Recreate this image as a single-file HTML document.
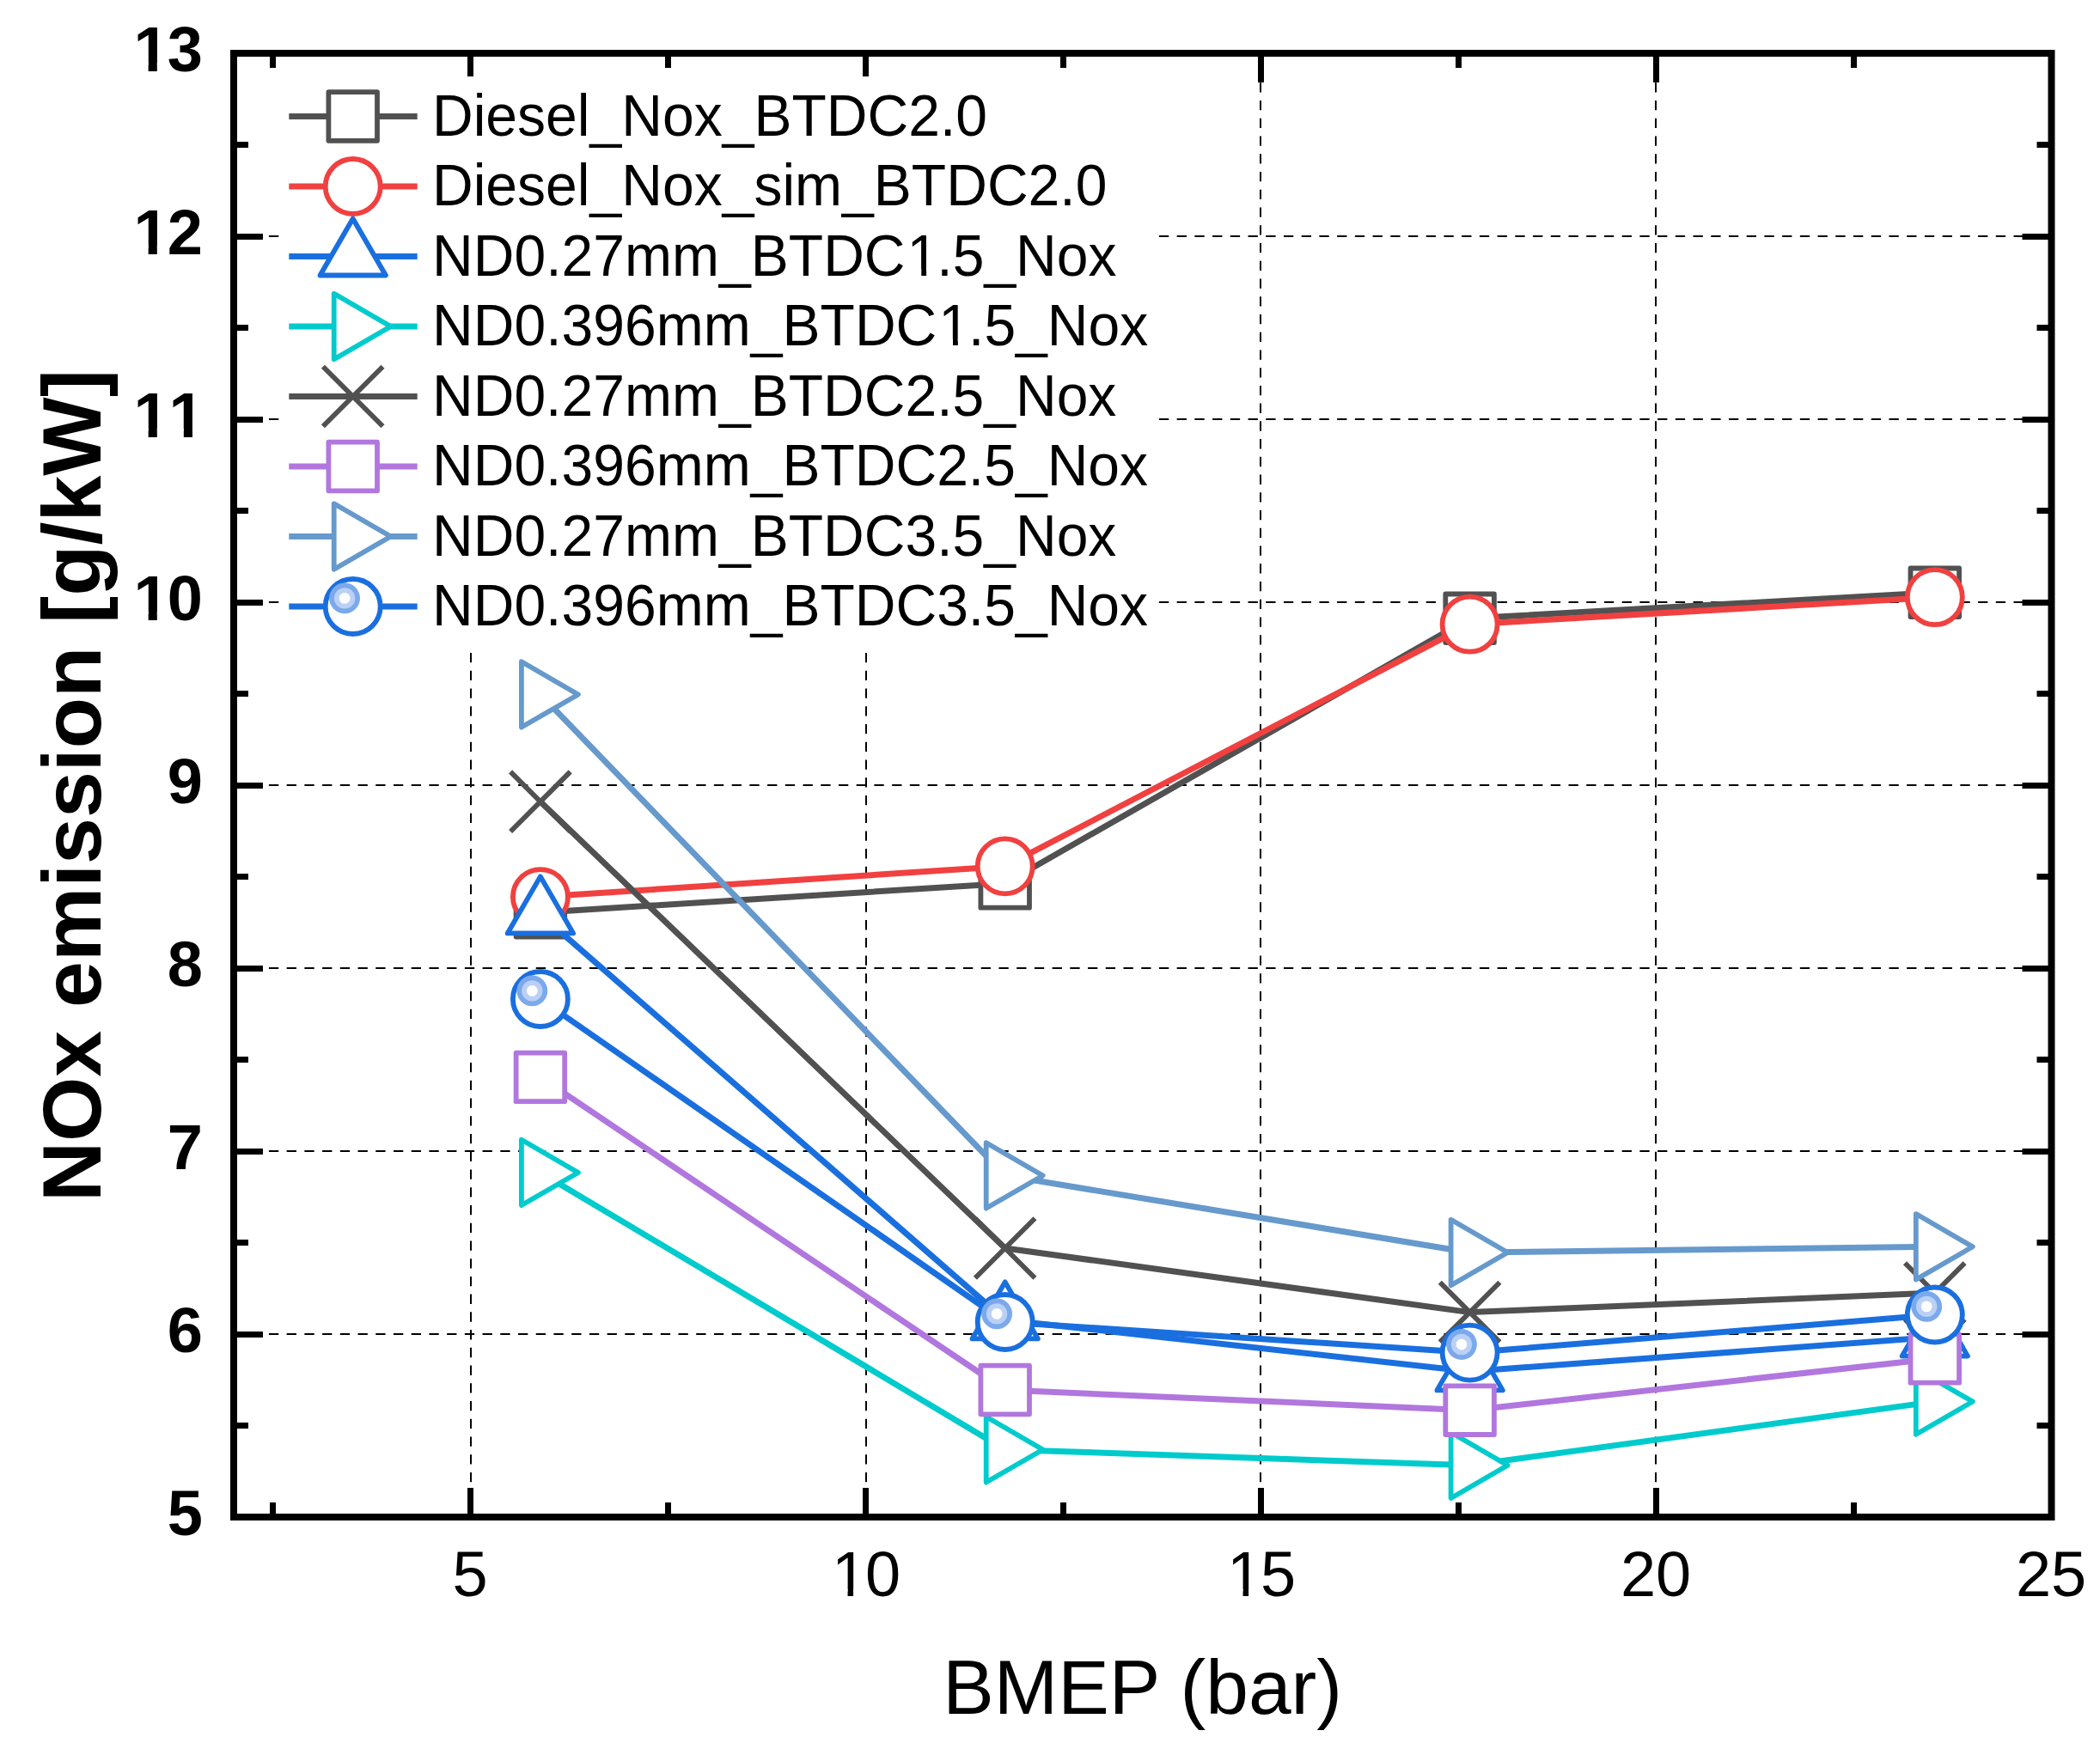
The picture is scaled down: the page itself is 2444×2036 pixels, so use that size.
<!DOCTYPE html>
<html lang="en">
<head>
<meta charset="utf-8">
<title>NOx emission vs BMEP</title>
<style>
html,body{margin:0;padding:0;background:#fff;}
svg{display:block;}
text{font-family:"Liberation Sans",sans-serif;fill:#000;}
.yt{font-weight:700;font-size:74px;font-kerning:none;}
.xt{font-size:74px;font-kerning:none;}
.lg{font-size:66.05px;}
.xl{font-size:89.3px;text-anchor:middle;}
.yl{font-weight:700;font-size:96.9px;text-anchor:middle;}
</style>
</head>
<body>
<svg width="2444" height="2036" viewBox="0 0 2444 2036" role="img" aria-label="NOx emission versus BMEP">
<rect width="2444" height="2036" fill="#fff"/>
<g stroke="#000" stroke-width="2" fill="none">
<path stroke-dasharray="11.3 9.42" d="M271.5 1553H2387.5"/>
<path stroke-dasharray="11.3 9.42" d="M271.5 1340H2387.5"/>
<path stroke-dasharray="11.3 9.42" d="M271.5 1127H2387.5"/>
<path stroke-dasharray="11.3 9.42" d="M271.5 914H2387.5"/>
<path stroke-dasharray="11.3 9.42" d="M271.5 701H2387.5"/>
<path stroke-dasharray="11.3 9.42" d="M271.5 488H2387.5"/>
<path stroke-dasharray="11.3 9.42" d="M271.5 275H2387.5"/>
<path stroke-dasharray="11.3 9.44" d="M548 1766.8V62"/>
<path stroke-dasharray="11.3 9.44" d="M1008 1766.8V62"/>
<path stroke-dasharray="11.3 9.44" d="M1467 1766.8V62"/>
<path stroke-dasharray="11.3 9.44" d="M1927 1766.8V62"/>
</g>
<g>
<polyline points="628.9,1062.3 1169.7,1028.4 1710.6,719.8 2251.8,689.8" fill="none" stroke="#515151" stroke-width="7" stroke-linejoin="round"/>
<rect x="600.6" y="1034" width="56.6" height="56.6" fill="#fff" stroke="#515151" stroke-width="5.8" stroke-linejoin="round"/>
<rect x="1141.4" y="1000.1" width="56.6" height="56.6" fill="#fff" stroke="#515151" stroke-width="5.8" stroke-linejoin="round"/>
<rect x="1682.3" y="691.5" width="56.6" height="56.6" fill="#fff" stroke="#515151" stroke-width="5.8" stroke-linejoin="round"/>
<rect x="2223.5" y="661.5" width="56.6" height="56.6" fill="#fff" stroke="#515151" stroke-width="5.8" stroke-linejoin="round"/>
</g>
<g>
<polyline points="628.9,1044.1 1169.7,1008.4 1710.6,726.7 2251.8,695.2" fill="none" stroke="#F14040" stroke-width="7" stroke-linejoin="round"/>
<circle cx="628.9" cy="1044.1" r="32" fill="#fff" stroke="#F14040" stroke-width="5.8" stroke-linejoin="round"/>
<circle cx="1169.7" cy="1008.4" r="32" fill="#fff" stroke="#F14040" stroke-width="5.8" stroke-linejoin="round"/>
<circle cx="1710.6" cy="726.7" r="32" fill="#fff" stroke="#F14040" stroke-width="5.8" stroke-linejoin="round"/>
<circle cx="2251.8" cy="695.2" r="32" fill="#fff" stroke="#F14040" stroke-width="5.8" stroke-linejoin="round"/>
</g>
<g>
<polyline points="628.9,1064.4 1169.7,1536.4 1710.6,1596.4 2251.8,1556.6" fill="none" stroke="#1A6FDF" stroke-width="7" stroke-linejoin="round"/>
<polygon points="628.9,1020.4 667.1,1086.4 590.7,1086.4" fill="#fff" stroke="#1A6FDF" stroke-width="5.8" stroke-linejoin="round"/>
<polygon points="1169.7,1492.4 1207.9,1558.4 1131.5,1558.4" fill="#fff" stroke="#1A6FDF" stroke-width="5.8" stroke-linejoin="round"/>
<polygon points="1710.6,1552.4 1748.8,1618.4 1672.4,1618.4" fill="#fff" stroke="#1A6FDF" stroke-width="5.8" stroke-linejoin="round"/>
<polygon points="2251.8,1512.6 2290,1578.6 2213.6,1578.6" fill="#fff" stroke="#1A6FDF" stroke-width="5.8" stroke-linejoin="round"/>
</g>
<g>
<polyline points="628.9,1364.9 1169.7,1687.4 1710.6,1705.7 2251.8,1631.6" fill="none" stroke="#00CBCC" stroke-width="7" stroke-linejoin="round"/>
<polygon points="606.9,1326.7 672.9,1364.9 606.9,1403.1" fill="#fff" stroke="#00CBCC" stroke-width="5.8" stroke-linejoin="round"/>
<polygon points="1147.7,1649.2 1213.7,1687.4 1147.7,1725.6" fill="#fff" stroke="#00CBCC" stroke-width="5.8" stroke-linejoin="round"/>
<polygon points="1688.6,1667.5 1754.6,1705.7 1688.6,1743.9" fill="#fff" stroke="#00CBCC" stroke-width="5.8" stroke-linejoin="round"/>
<polygon points="2229.8,1593.4 2295.8,1631.6 2229.8,1669.8" fill="#fff" stroke="#00CBCC" stroke-width="5.8" stroke-linejoin="round"/>
</g>
<g>
<polyline points="628.9,933.2 1169.7,1453 1710.6,1527.6 2251.8,1505.1" fill="none" stroke="#515151" stroke-width="7" stroke-linejoin="round"/>
<path d="M594.1 898.4L663.7 968M594.1 968L663.7 898.4" fill="none" stroke="#515151" stroke-width="5.8"/>
<path d="M1134.9 1418.2L1204.5 1487.8M1134.9 1487.8L1204.5 1418.2" fill="none" stroke="#515151" stroke-width="5.8"/>
<path d="M1675.8 1492.8L1745.4 1562.4M1675.8 1562.4L1745.4 1492.8" fill="none" stroke="#515151" stroke-width="5.8"/>
<path d="M2217 1470.3L2286.6 1539.9M2217 1539.9L2286.6 1470.3" fill="none" stroke="#515151" stroke-width="5.8"/>
</g>
<g>
<polyline points="628.9,1253.9 1169.7,1618 1710.6,1641.7 2251.8,1581.4" fill="none" stroke="#B177DE" stroke-width="7" stroke-linejoin="round"/>
<rect x="600.6" y="1225.6" width="56.6" height="56.6" fill="#fff" stroke="#B177DE" stroke-width="5.8" stroke-linejoin="round"/>
<rect x="1141.4" y="1589.7" width="56.6" height="56.6" fill="#fff" stroke="#B177DE" stroke-width="5.8" stroke-linejoin="round"/>
<rect x="1682.3" y="1613.4" width="56.6" height="56.6" fill="#fff" stroke="#B177DE" stroke-width="5.8" stroke-linejoin="round"/>
<rect x="2223.5" y="1553.1" width="56.6" height="56.6" fill="#fff" stroke="#B177DE" stroke-width="5.8" stroke-linejoin="round"/>
</g>
<g>
<polyline points="628.9,808.4 1169.7,1368.4 1710.6,1458 2251.8,1451.3" fill="none" stroke="#6699CC" stroke-width="7" stroke-linejoin="round"/>
<polygon points="606.9,770.2 672.9,808.4 606.9,846.6" fill="#fff" stroke="#6699CC" stroke-width="5.8" stroke-linejoin="round"/>
<polygon points="1147.7,1330.2 1213.7,1368.4 1147.7,1406.6" fill="#fff" stroke="#6699CC" stroke-width="5.8" stroke-linejoin="round"/>
<polygon points="1688.6,1419.8 1754.6,1458 1688.6,1496.2" fill="#fff" stroke="#6699CC" stroke-width="5.8" stroke-linejoin="round"/>
<polygon points="2229.8,1413.1 2295.8,1451.3 2229.8,1489.5" fill="#fff" stroke="#6699CC" stroke-width="5.8" stroke-linejoin="round"/>
</g>
<g>
<polyline points="628.9,1163 1169.7,1539 1710.6,1574.6 2251.8,1530.5" fill="none" stroke="#1A6FDF" stroke-width="7" stroke-linejoin="round"/>
<circle cx="628.9" cy="1163" r="32" fill="#fff" stroke="#1A6FDF" stroke-width="5.8" stroke-linejoin="round"/><circle cx="619.3" cy="1153.4" r="17.9" fill="#7BA9EB"/><circle cx="619.3" cy="1153.4" r="12.2" fill="#BAD1F5"/><circle cx="619.3" cy="1153.4" r="6.4" fill="#FDFDFF"/>
<circle cx="1169.7" cy="1539" r="32" fill="#fff" stroke="#1A6FDF" stroke-width="5.8" stroke-linejoin="round"/><circle cx="1160.1" cy="1529.4" r="17.9" fill="#7BA9EB"/><circle cx="1160.1" cy="1529.4" r="12.2" fill="#BAD1F5"/><circle cx="1160.1" cy="1529.4" r="6.4" fill="#FDFDFF"/>
<circle cx="1710.6" cy="1574.6" r="32" fill="#fff" stroke="#1A6FDF" stroke-width="5.8" stroke-linejoin="round"/><circle cx="1701" cy="1565" r="17.9" fill="#7BA9EB"/><circle cx="1701" cy="1565" r="12.2" fill="#BAD1F5"/><circle cx="1701" cy="1565" r="6.4" fill="#FDFDFF"/>
<circle cx="2251.8" cy="1530.5" r="32" fill="#fff" stroke="#1A6FDF" stroke-width="5.8" stroke-linejoin="round"/><circle cx="2242.2" cy="1520.9" r="17.9" fill="#7BA9EB"/><circle cx="2242.2" cy="1520.9" r="12.2" fill="#BAD1F5"/><circle cx="2242.2" cy="1520.9" r="6.4" fill="#FDFDFF"/>
</g>
<rect x="272" y="62" width="2115.5" height="1704" fill="none" stroke="#000" stroke-width="8"/>
<g stroke="#000" stroke-width="7" fill="none">
<path d="M272 1659.5h17M2387.5 1659.5h-17M272 1553.5h34M2387.5 1553.5h-34M272 1446.5h17M2387.5 1446.5h-17M272 1340.5h34M2387.5 1340.5h-34M272 1233.5h17M2387.5 1233.5h-17M272 1127.5h34M2387.5 1127.5h-34M272 1020.5h17M2387.5 1020.5h-17M272 914.5h34M2387.5 914.5h-34M272 807.5h17M2387.5 807.5h-17M272 701.5h34M2387.5 701.5h-34M272 594.5h17M2387.5 594.5h-17M272 488.5h34M2387.5 488.5h-34M272 381.5h17M2387.5 381.5h-17M272 275.5h34M2387.5 275.5h-34M272 168.5h17M2387.5 168.5h-17M317.5 1766v-17M317.5 62v17M547.5 1766v-34M547.5 62v34M777.5 1766v-17M777.5 62v17M1007.5 1766v-34M1007.5 62v34M1237.5 1766v-17M1237.5 62v17M1467.5 1766v-34M1467.5 62v34M1697.5 1766v-17M1697.5 62v17M1927.5 1766v-34M1927.5 62v34M2157.5 1766v-17M2157.5 62v17"/>
</g>
<rect x="328" y="89" width="1015" height="667" fill="#fff"/>
<path d="M336.3 135.5H485.7" stroke="#515151" stroke-width="7" fill="none"/><rect x="382.4" y="107.2" width="56.6" height="56.6" fill="#fff" stroke="#515151" stroke-width="5.8" stroke-linejoin="round"/><text class="lg" transform="translate(503 157.9) scale(1 1.035)">Diesel_Nox_BTDC2.0</text>
<path d="M336.3 217H485.7" stroke="#F14040" stroke-width="7" fill="none"/><circle cx="410.7" cy="217" r="32" fill="#fff" stroke="#F14040" stroke-width="5.8" stroke-linejoin="round"/><text class="lg" transform="translate(503 239.3) scale(1 1.035)">Diesel_Nox_sim_BTDC2.0</text>
<path d="M336.3 298.5H485.7" stroke="#1A6FDF" stroke-width="7" fill="none"/><polygon points="410.7,254.5 448.9,320.5 372.5,320.5" fill="#fff" stroke="#1A6FDF" stroke-width="5.8" stroke-linejoin="round"/><g transform="translate(503 320.8) scale(1 1.035)"><text class="lg" dx="0 0 0 0 0 0 0 0 0 0 0 0 0 2 -2">ND0.27mm_BTDC1.5_Nox</text><rect x="556.71" y="-7.33" width="12.58" height="8.53" fill="#fff"/><rect x="575.12" y="-7.33" width="12.06" height="8.53" fill="#fff"/></g>
<path d="M336.3 380H485.7" stroke="#00CBCC" stroke-width="7" fill="none"/><polygon points="388.7,341.8 454.7,380 388.7,418.2" fill="#fff" stroke="#00CBCC" stroke-width="5.8" stroke-linejoin="round"/><g transform="translate(503 402.2) scale(1 1.035)"><text class="lg" dx="0 0 0 0 0 0 0 0 0 0 0 0 0 0 2 -2">ND0.396mm_BTDC1.5_Nox</text><rect x="593.44" y="-7.33" width="12.58" height="8.53" fill="#fff"/><rect x="611.85" y="-7.33" width="12.06" height="8.53" fill="#fff"/></g>
<path d="M336.3 461.5H485.7" stroke="#515151" stroke-width="7" fill="none"/><path d="M375.9 426.7L445.5 496.3M375.9 496.3L445.5 426.7" fill="none" stroke="#515151" stroke-width="5.8"/><text class="lg" transform="translate(503 483.6) scale(1 1.035)">ND0.27mm_BTDC2.5_Nox</text>
<path d="M336.3 543H485.7" stroke="#B177DE" stroke-width="7" fill="none"/><rect x="382.4" y="514.7" width="56.6" height="56.6" fill="#fff" stroke="#B177DE" stroke-width="5.8" stroke-linejoin="round"/><text class="lg" transform="translate(503 565.1) scale(1 1.035)">ND0.396mm_BTDC2.5_Nox</text>
<path d="M336.3 624.5H485.7" stroke="#6699CC" stroke-width="7" fill="none"/><polygon points="388.7,586.3 454.7,624.5 388.7,662.7" fill="#fff" stroke="#6699CC" stroke-width="5.8" stroke-linejoin="round"/><text class="lg" transform="translate(503 646.5) scale(1 1.035)">ND0.27mm_BTDC3.5_Nox</text>
<path d="M336.3 706H485.7" stroke="#1A6FDF" stroke-width="7" fill="none"/><circle cx="410.7" cy="706" r="32" fill="#fff" stroke="#1A6FDF" stroke-width="5.8" stroke-linejoin="round"/><circle cx="401.1" cy="696.4" r="17.9" fill="#7BA9EB"/><circle cx="401.1" cy="696.4" r="12.2" fill="#BAD1F5"/><circle cx="401.1" cy="696.4" r="6.4" fill="#FDFDFF"/><text class="lg" transform="translate(503 727.9) scale(1 1.035)">ND0.396mm_BTDC3.5_Nox</text>
<text class="yt" x="194.84" y="1787">5</text>
<text class="yt" x="194.84" y="1574">6</text>
<text class="yt" x="194.84" y="1361">7</text>
<text class="yt" x="194.84" y="1148">8</text>
<text class="yt" x="194.84" y="935">9</text>
<text class="yt" x="155.39 194.84" y="722">10</text><rect x="159.05" y="712.05" width="13.61" height="11.15" fill="#fff"/><rect x="182.81" y="712.05" width="12.67" height="11.15" fill="#fff"/>
<text class="yt" x="155.39 196.54" y="509">11</text><rect x="159.05" y="499.05" width="13.61" height="11.15" fill="#fff"/><rect x="182.81" y="499.05" width="12.67" height="11.15" fill="#fff"/><rect x="200.21" y="499.05" width="13.61" height="11.15" fill="#fff"/><rect x="223.97" y="499.05" width="12.67" height="11.15" fill="#fff"/>
<text class="yt" x="155.39 194.84" y="296">12</text><rect x="159.05" y="286.05" width="13.61" height="11.15" fill="#fff"/><rect x="182.81" y="286.05" width="12.67" height="11.15" fill="#fff"/>
<text class="yt" x="155.39 194.84" y="83">13</text><rect x="159.05" y="73.05" width="13.61" height="11.15" fill="#fff"/><rect x="182.81" y="73.05" width="12.67" height="11.15" fill="#fff"/>
<text class="xt" x="526.52" y="1858">5</text>
<text class="xt" x="967.94 1007.10" y="1858">10</text><rect x="972.58" y="1850.07" width="13.97" height="9.13" fill="#fff"/><rect x="993.09" y="1850.07" width="13.39" height="9.13" fill="#fff"/>
<text class="xt" x="1427.94 1467.10" y="1858">15</text><rect x="1432.58" y="1850.07" width="13.97" height="9.13" fill="#fff"/><rect x="1453.09" y="1850.07" width="13.39" height="9.13" fill="#fff"/>
<text class="xt" x="1885.94 1927.10" y="1858">20</text>
<text class="xt" x="2345.94 2387.10" y="1858">25</text>
<text class="xl" x="1329.7" y="1995">BMEP (bar)</text>
<text class="yl" transform="translate(117 914.5) rotate(-90)">NOx emission [g/kW]</text>
</svg>
</body>
</html>
